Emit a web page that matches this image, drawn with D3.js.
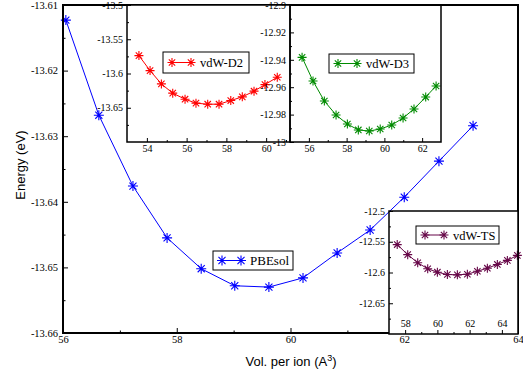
<!DOCTYPE html>
<html><head><meta charset="utf-8">
<script src="https://cdn.jsdelivr.net/npm/d3@7/dist/d3.min.js"></script>
<style>body{margin:0;background:#fff}svg{display:block}.ser{font-family:"Liberation Serif","Times New Roman",serif}</style>
</head><body><svg id="c" width="523" height="374"></svg>
<script>
// ---- data ----
const mainX = [56.05,56.63,57.23,57.83,58.43,59.02,59.62,60.22,60.82,61.40,62.00,62.61,63.21];
const mainY = [-13.6123,-13.6268,-13.6376,-13.6455,-13.6502,-13.6528,-13.6530,-13.6516,-13.6478,-13.6443,-13.6393,-13.6338,-13.6284];
const d2X = [53.60,54.16,54.73,55.30,55.92,56.47,57.06,57.63,58.22,58.80,59.39,59.94,60.56];
const d2Y = [-13.5739,-13.5958,-13.6152,-13.6287,-13.6375,-13.6433,-13.6448,-13.6448,-13.6395,-13.6341,-13.6258,-13.6162,-13.6054];
const d3X = [55.64,56.22,56.82,57.44,58.04,58.62,59.20,59.78,60.39,60.99,61.57,62.19,62.74];
const d3Y = [-12.9382,-12.9555,-12.9701,-12.9803,-12.9869,-12.9912,-12.9920,-12.9905,-12.9876,-12.9825,-12.9759,-12.9672,-12.9591];
const tsX = [57.51,58.16,58.78,59.40,60.00,60.62,61.24,61.86,62.48,63.10,63.72,64.34,64.96];
const tsY = [-12.5546,-12.5710,-12.5841,-12.5939,-12.5995,-12.6033,-12.6038,-12.6028,-12.5979,-12.5930,-12.5869,-12.5803,-12.5721];

const mainXTicks = [56,58,60,62,64], mainXMinor = [57,59,61,63];
const mainYTicks = [-13.61,-13.62,-13.63,-13.64,-13.65,-13.66];
const mainYMinor = [-13.615,-13.625,-13.635,-13.645,-13.655];
const d2XTicks = [54,56,58,60], d2XMinor = [55,57,59,61];
const d2YTicks = [-13.5,-13.55,-13.6,-13.65], d2YMinor = [-13.525,-13.575,-13.625,-13.675];
const d3XTicks = [56,58,60,62], d3XMinor = [57,59,61];
const d3YTicks = [-12.9,-12.92,-12.94,-12.96,-12.98,-13], d3YMinor = [-12.91,-12.93,-12.95,-12.97,-12.99];
const tsXTicks = [58,60,62,64], tsXMinor = [59,61,63];
const tsYTicks = [-12.5,-12.55,-12.6,-12.65], tsYMinor = [-12.525,-12.575,-12.625,-12.675];

const labels = {main:"PBEsol", d2:"vdW-D2", d3:"vdW-D3", ts:"vdW-TS"};
const colors = {main:"#0000ff", d2:"#ff0000", d3:"#008b00", ts:"#670748"};

// ---- drawing ----
const svg = d3.select("#c");
const serif = "Liberation Serif";
const sans = "Liberation Sans";

function star(r){const a=r*0.7071;return `M${-r},0L${r},0M0,${-r}L0,${r}M${-a},${-a}L${a},${a}M${-a},${a}L${a},${-a}`;}

function panel(o){
  const g = svg.append("g");
  const x = d3.scaleLinear().domain(o.xd).range([o.l,o.r]);
  const y = d3.scaleLinear().domain(o.yd).range([o.b,o.t]);
  if(o.fill) g.append("rect").attr("x",o.l).attr("y",o.t).attr("width",o.r-o.l).attr("height",o.b-o.t).attr("fill","#fff");
  const pts = o.xs.map((v,i)=>[v,o.ys[i]]);
  g.append("path").datum(pts).attr("fill","none").attr("stroke",o.color).attr("stroke-width",1)
    .attr("d",d3.line().x(d=>x(d[0])).y(d=>y(d[1])));
  g.selectAll(null).data(pts).enter().append("path")
    .attr("transform",d=>`translate(${x(d[0])},${y(d[1])})`)
    .attr("d",star(o.ms)).attr("stroke",o.color).attr("stroke-width",1.1).attr("fill","none");
  const fs = o.fs;
  const ax = d3.axisBottom(x).tickValues(o.xt).tickSize(-o.tk).tickPadding(o.xpad).tickFormat(d=>String(d));
  const gx = g.append("g").attr("transform",`translate(0,${o.b})`).call(ax)
    .attr("font-family",serif).attr("font-size",fs);
  gx.select(".domain").remove();
  gx.selectAll("text").attr("class","ser").style("font-size",fs+"px").attr("fill","#000");
  if(o.xInside) gx.selectAll("text").attr("y",-o.tk-3).attr("dy","0");
  gx.selectAll("line").attr("stroke","#000");
  const axm = d3.axisBottom(x).tickValues(o.xm).tickSize(-o.tk/2).tickFormat("");
  const gxm = g.append("g").attr("transform",`translate(0,${o.b})`).call(axm); gxm.select(".domain").remove();
  const ay = d3.axisLeft(y).tickValues(o.yt).tickSize(-o.tk).tickPadding(o.ypad).tickFormat(d=>String(d));
  const gy = g.append("g").attr("transform",`translate(${o.l},0)`).call(ay)
    .attr("font-family",serif).attr("font-size",fs);
  gy.select(".domain").remove();
  gy.selectAll("text").attr("class","ser").style("font-size",fs+"px").attr("fill","#000");
  const aym = d3.axisLeft(y).tickValues(o.ym).tickSize(-o.tk/2).tickFormat("");
  const gym = g.append("g").attr("transform",`translate(${o.l},0)`).call(aym); gym.select(".domain").remove();
  g.append("rect").attr("x",o.l).attr("y",o.t).attr("width",o.r-o.l).attr("height",o.b-o.t)
    .attr("fill","none").attr("stroke","#000").attr("stroke-width",o.sw);
  const L = o.leg;
  g.append("rect").attr("x",L[0]).attr("y",L[1]).attr("width",L[2]).attr("height",L[3])
    .attr("fill","#fff").attr("stroke","#000").attr("stroke-width",1);
  const ly = L[1]+L[3]/2, lx0 = L[0]+9, lx1 = L[0]+28;
  g.append("line").attr("x1",lx0).attr("x2",lx1).attr("y1",ly).attr("y2",ly).attr("stroke",o.color);
  [lx0,lx1].forEach(px=>g.append("path").attr("transform",`translate(${px},${ly})`).attr("d",star(o.ms)).attr("stroke",o.color).attr("stroke-width",1.1));
  g.append("text").attr("class","ser").attr("x",L[0]+37).attr("y",ly+4.5).text(o.label)
    .style("font-size",o.lfs+"px").attr("fill","#000");
}

panel({xd:[56,64],yd:[-13.66,-13.61],l:63,r:518,t:5,b:333,xs:mainX,ys:mainY,color:colors.main,ms:5,
  xt:mainXTicks,xm:mainXMinor,yt:mainYTicks,ym:mainYMinor,tk:5,fs:10.5,xpad:3,ypad:5,sw:2,
  leg:[213,251,80,19],label:labels.main,lfs:13});
panel({xd:[53,61.2],yd:[-13.7,-13.5],l:127,r:290,t:5,b:142,xs:d2X,ys:d2Y,color:colors.d2,ms:4.5,fill:true,
  xt:d2XTicks,xm:d2XMinor,yt:d2YTicks,ym:d2YMinor,tk:4,fs:10,xpad:3,ypad:4,sw:1.5,
  leg:[163,52,86,21],label:labels.d2,lfs:12.5});
panel({xd:[55,63],yd:[-13,-12.9],l:290,r:441,t:5,b:142,xs:d3X,ys:d3Y,color:colors.d3,ms:4.5,fill:false,
  xt:d3XTicks,xm:d3XMinor,yt:d3YTicks,ym:d3YMinor,tk:4,fs:10,xpad:3,ypad:4,sw:1.5,
  leg:[329,54,85,19],label:labels.d3,lfs:12.5});
panel({xd:[57,65],yd:[-12.7,-12.5],l:389,r:518,t:211,b:334,xs:tsX,ys:tsY,color:colors.ts,ms:4.5,fill:true,
  xt:tsXTicks,xm:tsXMinor,yt:tsYTicks,ym:tsYMinor,tk:4,fs:10,xpad:3,ypad:4,sw:1.5,xInside:true,
  leg:[416,226,83,18],label:labels.ts,lfs:12.5});

svg.append("text").attr("transform","translate(25,165) rotate(-90)").attr("text-anchor","middle")
  .style("font-family",sans).style("font-size","13px").text("Energy (eV)");
const xt = svg.append("text").attr("x",291).attr("y",366).attr("text-anchor","middle")
  .style("font-family",sans).style("font-size","13px");
xt.append("tspan").text("Vol. per ion (A");
xt.append("tspan").attr("dy",-5).style("font-size","9px").text("3");
xt.append("tspan").attr("dy",5).text(")");
</script></body></html>
